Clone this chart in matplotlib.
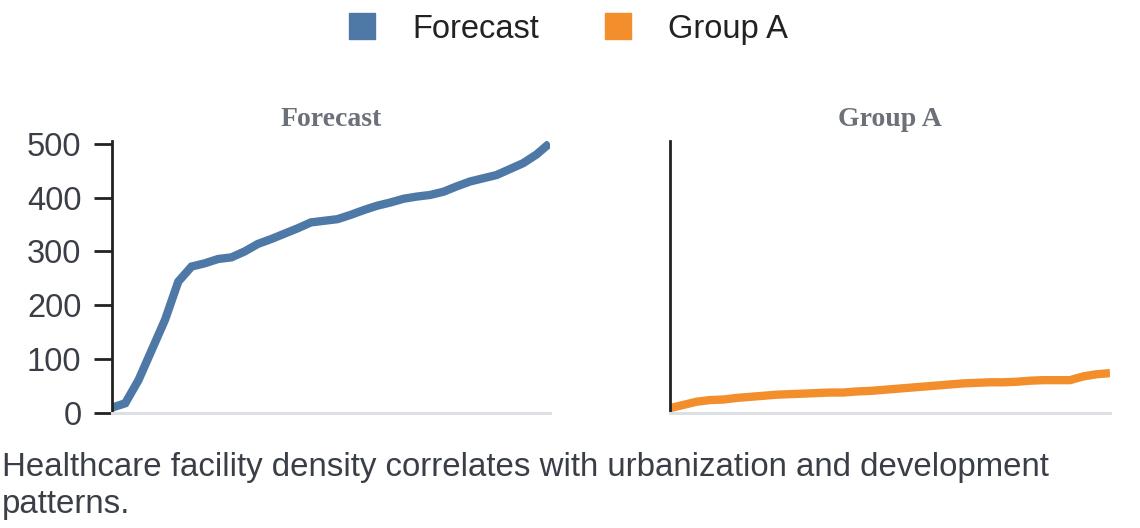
import numpy as np
import matplotlib
matplotlib.use("Agg")
import matplotlib.pyplot as plt
from matplotlib.lines import Line2D

# values, 34 points per series
forecast = [10, 18, 61, 117, 173, 244, 272, 278, 286, 289, 300, 314, 323, 333,
            343, 354, 357, 360, 368, 377, 385, 391, 398, 402, 405, 411, 421, 430,
            436, 442, 453, 464, 480, 501]
group_a = [9, 15, 21, 24, 25, 28, 30, 32, 34, 35, 36, 37, 38, 38, 40, 41, 43,
           45, 47, 49, 51, 53, 55, 56, 57, 57, 58, 60, 61, 61, 61, 68, 72, 74]
series_names = ["Forecast", "Group A"]
colors = ["#4e79a7", "#f28e2b"]
y_ticks = [0, 100, 200, 300, 400, 500]
caption = "Healthcare facility density correlates with urbanization and development\npatterns."

plt.rcParams["font.family"] = ["Liberation Sans", "DejaVu Sans"]

fig = plt.figure(figsize=(11.4, 5.28), dpi=100)
ax1 = fig.add_axes([0.0982, 0.2178, 0.384, 0.515])
ax2 = fig.add_axes([0.5877, 0.2178, 0.386, 0.515])

for ax, vals, name, col in zip([ax1, ax2], [forecast, group_a], series_names, colors):
    x = np.arange(len(vals))
    ax.plot(x, vals, color=col, lw=6, solid_capstyle="butt", solid_joinstyle="miter")
    ax.set_xlim(0, len(vals) - 1)
    ax.set_ylim(0, 505)
    ax.set_xticks([])
    for s in ["top", "right"]:
        ax.spines[s].set_visible(False)
    ax.spines["bottom"].set_color("#dcdfe4")
    ax.spines["bottom"].set_linewidth(2.2)
    ax.spines["left"].set_color("#222222")
    ax.spines["left"].set_linewidth(2)
    ax.set_title(name, family=["Liberation Serif"], fontweight="bold", fontsize=20,
                 color="#6b7079", pad=11)

ax1.set_yticks(y_ticks)
ax1.tick_params(axis="y", length=13, width=2, color="#222222", labelsize=23.5,
                labelcolor="#3a3f47", pad=9)
ax2.set_yticks([])

handles = [Line2D([], [], ls="none", marker="s", markersize=19, color=c) for c in colors]
fig.legend(handles, series_names, loc="center", bbox_to_anchor=(0.49, 0.945), ncol=2,
           frameon=False, fontsize=23.5, handlelength=2.0, handletextpad=0.53,
           columnspacing=1.42, labelcolor="#222222")

fig.text(0.002, 1 - 512.5 / 528, caption, fontsize=23.75, color="#3a3f47", va="baseline",
         ha="left", linespacing=1.24)

fig.savefig("out.png", dpi=100)
